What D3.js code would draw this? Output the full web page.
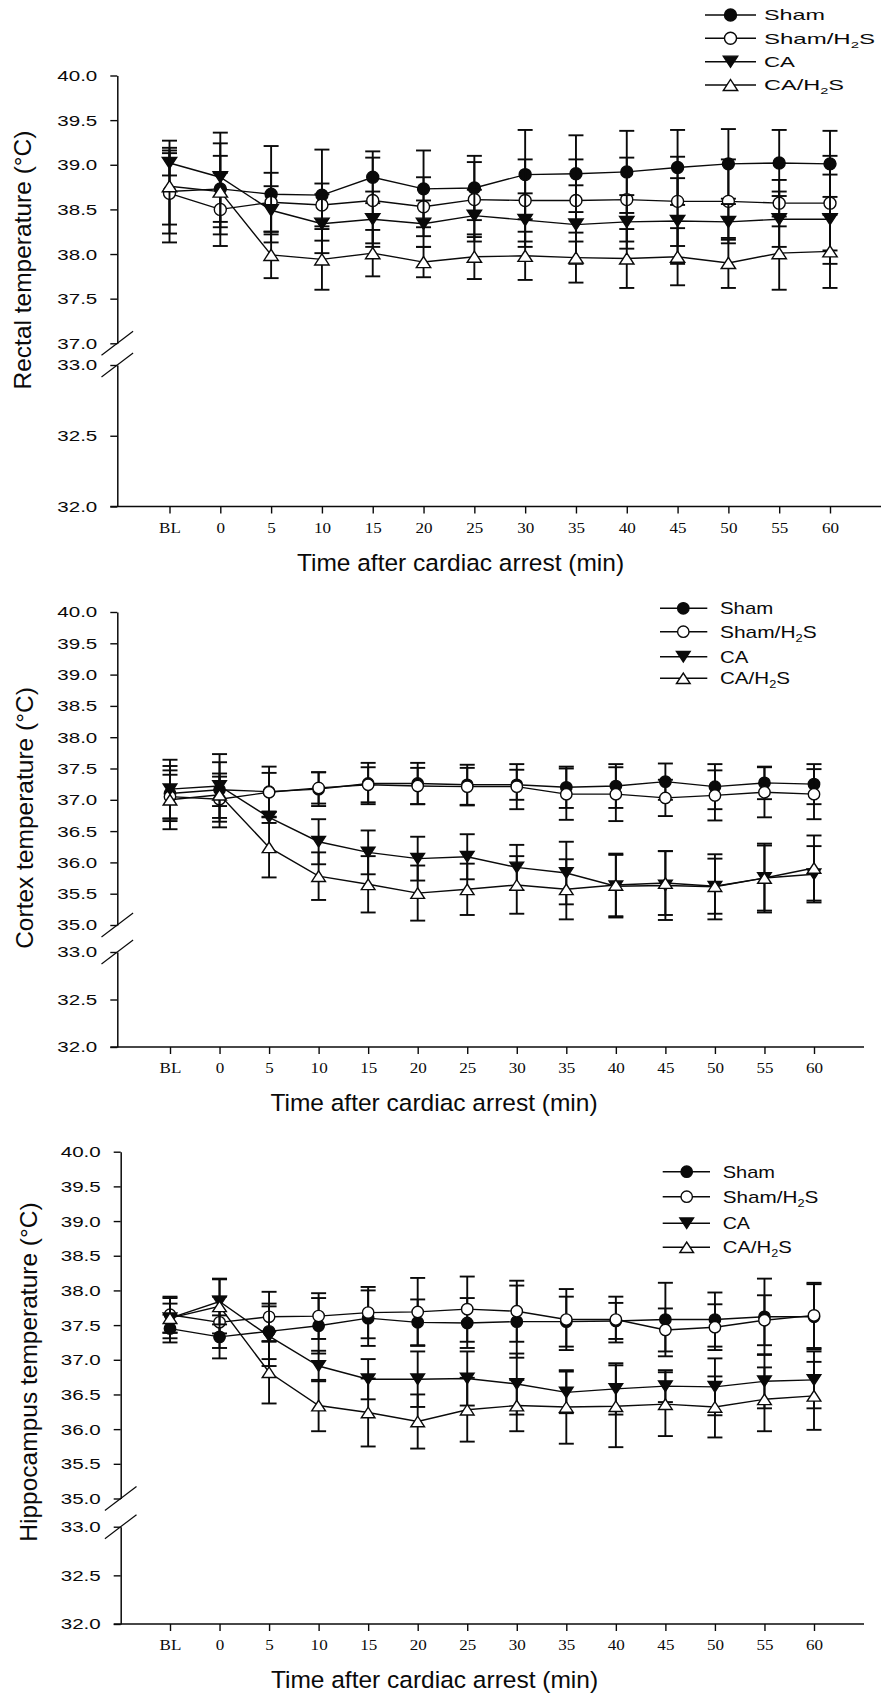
<!DOCTYPE html>
<html><head><meta charset="utf-8">
<script src="https://cdn.jsdelivr.net/npm/d3@7"></script>
<style>body{margin:0;background:#fff}svg{display:block}</style>
</head><body>
<svg id="chart" width="887" height="1696"></svg>
<script>
// ---------------- DATA ----------------
const timeLabels = ["BL","0","5","10","15","20","25","30","35","40","45","50","55","60"];
const seriesNames = ["Sham","Sham/H2S","CA","CA/H2S"];
const upperTicksRectal = [37.0,37.5,38.0,38.5,39.0,39.5,40.0];
const upperTicksBrain = [35.0,35.5,36.0,36.5,37.0,37.5,38.0,38.5,39.0,39.5,40.0];
const lowerTicks = [32.0,32.5,33.0];
const yTitles = ["Rectal temperature (\u00B0C)","Cortex temperature (\u00B0C)","Hippocampus temperature (\u00B0C)"];
const xTitle = "Time after cardiac arrest (min)";

// Rectal
const rectalSham       = [38.70,38.73,38.67,38.66,38.86,38.73,38.74,38.89,38.90,38.92,38.97,39.01,39.02,39.01];
const rectalShamErr    = [0.57,0.51,0.54,0.51,0.29,0.43,0.36,0.50,0.43,0.46,0.42,0.39,0.37,0.37];
const rectalShamH2S    = [38.68,38.50,38.58,38.55,38.60,38.53,38.61,38.60,38.60,38.61,38.59,38.59,38.57,38.57];
const rectalShamH2SErr = [0.45,0.41,0.33,0.24,0.48,0.33,0.42,0.46,0.46,0.47,0.50,0.47,0.26,0.53];
const rectalCA         = [39.02,38.86,38.49,38.34,38.39,38.34,38.43,38.38,38.33,38.36,38.37,38.36,38.39,38.39];
const rectalCAErr      = [0.14,0.50,0.27,0.33,0.31,0.26,0.29,0.30,0.44,0.30,0.48,0.20,0.31,0.50];
const rectalCAH2S      = [38.76,38.70,37.99,37.94,38.01,37.91,37.97,37.98,37.96,37.95,37.97,37.90,38.01,38.03];
const rectalCAH2SErr   = [0.43,0.40,0.26,0.34,0.26,0.17,0.25,0.27,0.28,0.33,0.32,0.28,0.41,0.41];

// Cortex
const cortexSham       = [37.10,37.16,37.13,37.17,37.26,37.26,37.24,37.24,37.20,37.22,37.29,37.21,37.27,37.25];
const cortexShamErr    = [0.44,0.26,0.40,0.27,0.33,0.33,0.32,0.24,0.33,0.35,0.29,0.36,0.26,0.32];
const cortexShamH2S    = [37.05,37.01,37.12,37.19,37.24,37.22,37.21,37.21,37.09,37.09,37.03,37.07,37.12,37.09];
const cortexShamH2SErr = [0.35,0.36,0.31,0.25,0.28,0.29,0.30,0.36,0.41,0.43,0.29,0.40,0.40,0.40];
const cortexCA         = [37.17,37.22,36.72,36.33,36.16,36.06,36.09,35.92,35.83,35.62,35.63,35.61,35.75,35.81];
const cortexCAErr      = [0.47,0.51,0.09,0.36,0.35,0.35,0.36,0.36,0.50,0.50,0.55,0.52,0.55,0.45];
const cortexCAH2S      = [37.00,37.08,36.24,35.78,35.65,35.51,35.57,35.64,35.57,35.64,35.67,35.62,35.75,35.91];
const cortexCAH2SErr   = [0.47,0.52,0.48,0.38,0.45,0.44,0.41,0.46,0.48,0.50,0.51,0.44,0.52,0.52];

// Hippocampus
const hippoSham       = [37.45,37.33,37.41,37.49,37.60,37.54,37.53,37.55,37.55,37.56,37.58,37.58,37.62,37.62];
const hippoShamErr    = [0.20,0.31,0.40,0.40,0.40,0.33,0.36,0.52,0.36,0.26,0.53,0.39,0.55,0.47];
const hippoShamH2S    = [37.65,37.54,37.62,37.63,37.68,37.69,37.73,37.70,37.58,37.58,37.43,37.47,37.57,37.64];
const hippoShamH2SErr = [0.26,0.37,0.36,0.33,0.37,0.49,0.47,0.44,0.44,0.33,0.31,0.33,0.36,0.47];
const hippoCA         = [37.60,37.84,37.34,36.91,36.72,36.72,36.73,36.65,36.53,36.58,36.62,36.61,36.69,36.71];
const hippoCAErr      = [0.21,0.33,0.43,0.22,0.29,0.40,0.39,0.44,0.30,0.37,0.23,0.41,0.39,0.41];
const hippoCAH2S      = [37.60,37.77,36.82,36.34,36.24,36.11,36.28,36.34,36.32,36.33,36.36,36.32,36.43,36.48];
const hippoCAH2SErr   = [0.29,0.39,0.45,0.37,0.49,0.39,0.46,0.37,0.53,0.59,0.46,0.44,0.46,0.49];

// ---------------- LAYOUT ----------------
const markerTypes = ["circleFilled","circleOpen","triDown","triUp"];
const panels = [
  { title: yTitles[0], upperTicks: upperTicksRectal,
    series: [[rectalSham,rectalShamErr],[rectalShamH2S,rectalShamH2SErr],[rectalCA,rectalCAErr],[rectalCAH2S,rectalCAH2SErr]],
    axisX: 117.3, upperRange: [343.3, 75.5], lowerRange: [506.5, 365], xRange: [169.5, 830], xEnd: 881,
    legend: { x0: 705, x1: 756, sym: 730.5, tx: 764, rows: [15, 38.3, 61.7, 85], widths: [61, 111, 31, 80], fs: 15 },
    yTitle: { x: 31.3, cy: 260 }, xTitle: { cx: 460.5, y: 571 }, r: 6 },
  { title: yTitles[1], upperTicks: upperTicksBrain,
    series: [[cortexSham,cortexShamErr],[cortexShamH2S,cortexShamH2SErr],[cortexCA,cortexCAErr],[cortexCAH2S,cortexCAH2SErr]],
    axisX: 117.3, upperRange: [925, 612], lowerRange: [1047, 952], xRange: [170, 814], xEnd: 864,
    legend: { x0: 660, x1: 707.3, sym: 683.3, tx: 720, rows: [608.3, 631.7, 656.7, 678.3], widths: [53.3, 96.7, 28.3, 70], fs: 17 },
    yTitle: { x: 33, cy: 818 }, xTitle: { cx: 434, y: 1111 }, r: 5.7 },
  { title: yTitles[2], upperTicks: upperTicksBrain,
    series: [[hippoSham,hippoShamErr],[hippoShamH2S,hippoShamH2SErr],[hippoCA,hippoCAErr],[hippoCAH2S,hippoCAH2SErr]],
    axisX: 120.7, upperRange: [1498.5, 1151.7], lowerRange: [1624, 1526.7], xRange: [170, 814], xEnd: 864,
    legend: { x0: 662.7, x1: 710, sym: 686.7, tx: 722.7, rows: [1171.7, 1196.7, 1223.3, 1247.3], widths: [52.3, 95.7, 27.3, 69], fs: 17 },
    yTitle: { x: 37, cy: 1372 }, xTitle: { cx: 434.5, y: 1688 }, r: 5.7 }
];

const svg = d3.select("#chart");
const SANS = "'Liberation Sans', Arial, sans-serif";
const SERIF = "'Liberation Serif', 'Times New Roman', serif";
const INK = "#0a0a0a";

function drawMarker(g, type, x, y, r) {
  if (type === "circleFilled" || type === "circleOpen") {
    g.append("circle").attr("cx", x).attr("cy", y).attr("r", r)
      .attr("fill", type === "circleFilled" ? INK : "#fff").attr("stroke", INK).attr("stroke-width", 1.4);
  } else {
    const w = r * 2.4, h = r * 1.85;
    const p = type === "triDown"
      ? `M${x - w/2},${y - h/2}L${x + w/2},${y - h/2}L${x},${y + h/2}Z`
      : `M${x - w/2},${y + h/2}L${x + w/2},${y + h/2}L${x},${y - h/2}Z`;
    g.append("path").attr("d", p)
      .attr("fill", type === "triDown" ? INK : "#fff").attr("stroke", INK).attr("stroke-width", 1.4)
      .attr("stroke-linejoin", "miter");
  }
}

function labelWithSub(sel, name) {
  const parts = name.split("H2");
  sel.text(null);
  if (parts.length === 1) { sel.text(name); return; }
  sel.append("tspan").text(parts[0] + "H");
  sel.append("tspan").text("2").attr("font-size", "0.62em").attr("dy", 4);
  sel.append("tspan").text(parts[1]).attr("dy", -4);
}

panels.forEach(P => {
  const g = svg.append("g");
  const lo = P.upperTicks[0];
  const yU = d3.scaleLinear().domain([lo, 40]).range(P.upperRange);
  const yL = d3.scaleLinear().domain([32, 33]).range(P.lowerRange);
  const y = v => (v >= lo ? yU(v) : yL(v));
  const x = d3.scalePoint().domain(timeLabels).range(P.xRange);

  // Y axes (two segments)
  [[yU, P.upperTicks], [yL, lowerTicks]].forEach(([sc, ticks]) => {
    const ax = g.append("g").attr("transform", `translate(${P.axisX},0)`)
      .call(d3.axisLeft(sc).tickValues(ticks).tickFormat(d3.format(".1f")).tickSize(7).tickSizeOuter(0).tickPadding(13));
    ax.select(".domain").attr("stroke", INK).attr("stroke-width", 1.5);
    ax.selectAll(".tick line").attr("stroke", INK).attr("stroke-width", 1.4);
    ax.selectAll(".tick text").attr("font-family", SANS).attr("font-size", 15.5).attr("fill", INK)
      .attr("textLength", 40).attr("lengthAdjust", "spacingAndGlyphs");
  });
  // break marks
  [yU(lo), yL(33)].forEach(by => {
    g.append("line").attr("x1", P.axisX - 15.8).attr("y1", by + 12).attr("x2", P.axisX + 15.8).attr("y2", by - 12)
      .attr("stroke", INK).attr("stroke-width", 1.2);
  });

  // X axis
  const axisY = yL(32);
  const xa = g.append("g").attr("transform", `translate(0,${axisY})`)
    .call(d3.axisBottom(x).tickSize(7).tickSizeOuter(0).tickPadding(8.4));
  xa.select(".domain").remove();
  xa.selectAll(".tick line").attr("stroke", INK).attr("stroke-width", 1.4);
  xa.selectAll(".tick text").attr("font-family", SERIF).attr("font-size", 15.5).attr("fill", INK)
    .each(function () { const L = this.getComputedTextLength(); d3.select(this).attr("textLength", L * 1.1).attr("lengthAdjust", "spacingAndGlyphs"); });
  g.append("line").attr("x1", P.axisX - 7).attr("x2", P.xEnd).attr("y1", axisY).attr("y2", axisY)
    .attr("stroke", INK).attr("stroke-width", 1.5);

  // titles
  g.append("text").attr("x", P.xTitle.cx).attr("y", P.xTitle.y).attr("text-anchor", "middle")
    .attr("font-family", SANS).attr("font-size", 24.5).attr("fill", INK).text(xTitle);
  g.append("text").attr("transform", `translate(${P.yTitle.x},${P.yTitle.cy}) rotate(-90)`).attr("text-anchor", "middle")
    .attr("font-family", SANS).attr("font-size", 24.5).attr("fill", INK).text(P.title);

  // Series
  const line = d3.line().x((d, i) => x(timeLabels[i])).y(d => y(d));
  P.series.forEach(([vals, errs], si) => {
    const sg = g.append("g");
    vals.forEach((v, i) => {
      const cx = x(timeLabels[i]);
      const top = y(v + errs[i]), bot = y(v - errs[i]);
      sg.append("line").attr("x1", cx).attr("x2", cx).attr("y1", top).attr("y2", bot).attr("stroke", INK).attr("stroke-width", 1.9);
      [top, bot].forEach(cy => sg.append("line").attr("x1", cx - 7.5).attr("x2", cx + 7.5).attr("y1", cy).attr("y2", cy)
        .attr("stroke", INK).attr("stroke-width", 1.9));
    });
    sg.append("path").attr("d", line(vals)).attr("fill", "none").attr("stroke", INK).attr("stroke-width", 1.4);
    vals.forEach((v, i) => drawMarker(sg, markerTypes[si], x(timeLabels[i]), y(v), P.r));
  });

  // Legend
  const L = P.legend;
  seriesNames.forEach((name, i) => {
    const ry = L.rows[i];
    g.append("line").attr("x1", L.x0).attr("x2", L.x1).attr("y1", ry).attr("y2", ry).attr("stroke", INK).attr("stroke-width", 1.4);
    drawMarker(g, markerTypes[i], L.sym, ry, P.r);
    const t = g.append("text").attr("x", L.tx).attr("y", ry).attr("dy", "0.35em")
      .attr("font-family", SANS).attr("font-size", L.fs).attr("fill", INK)
      .attr("textLength", L.widths[i]).attr("lengthAdjust", "spacingAndGlyphs");
    labelWithSub(t, name);
  });
});
</script>
</body></html>
